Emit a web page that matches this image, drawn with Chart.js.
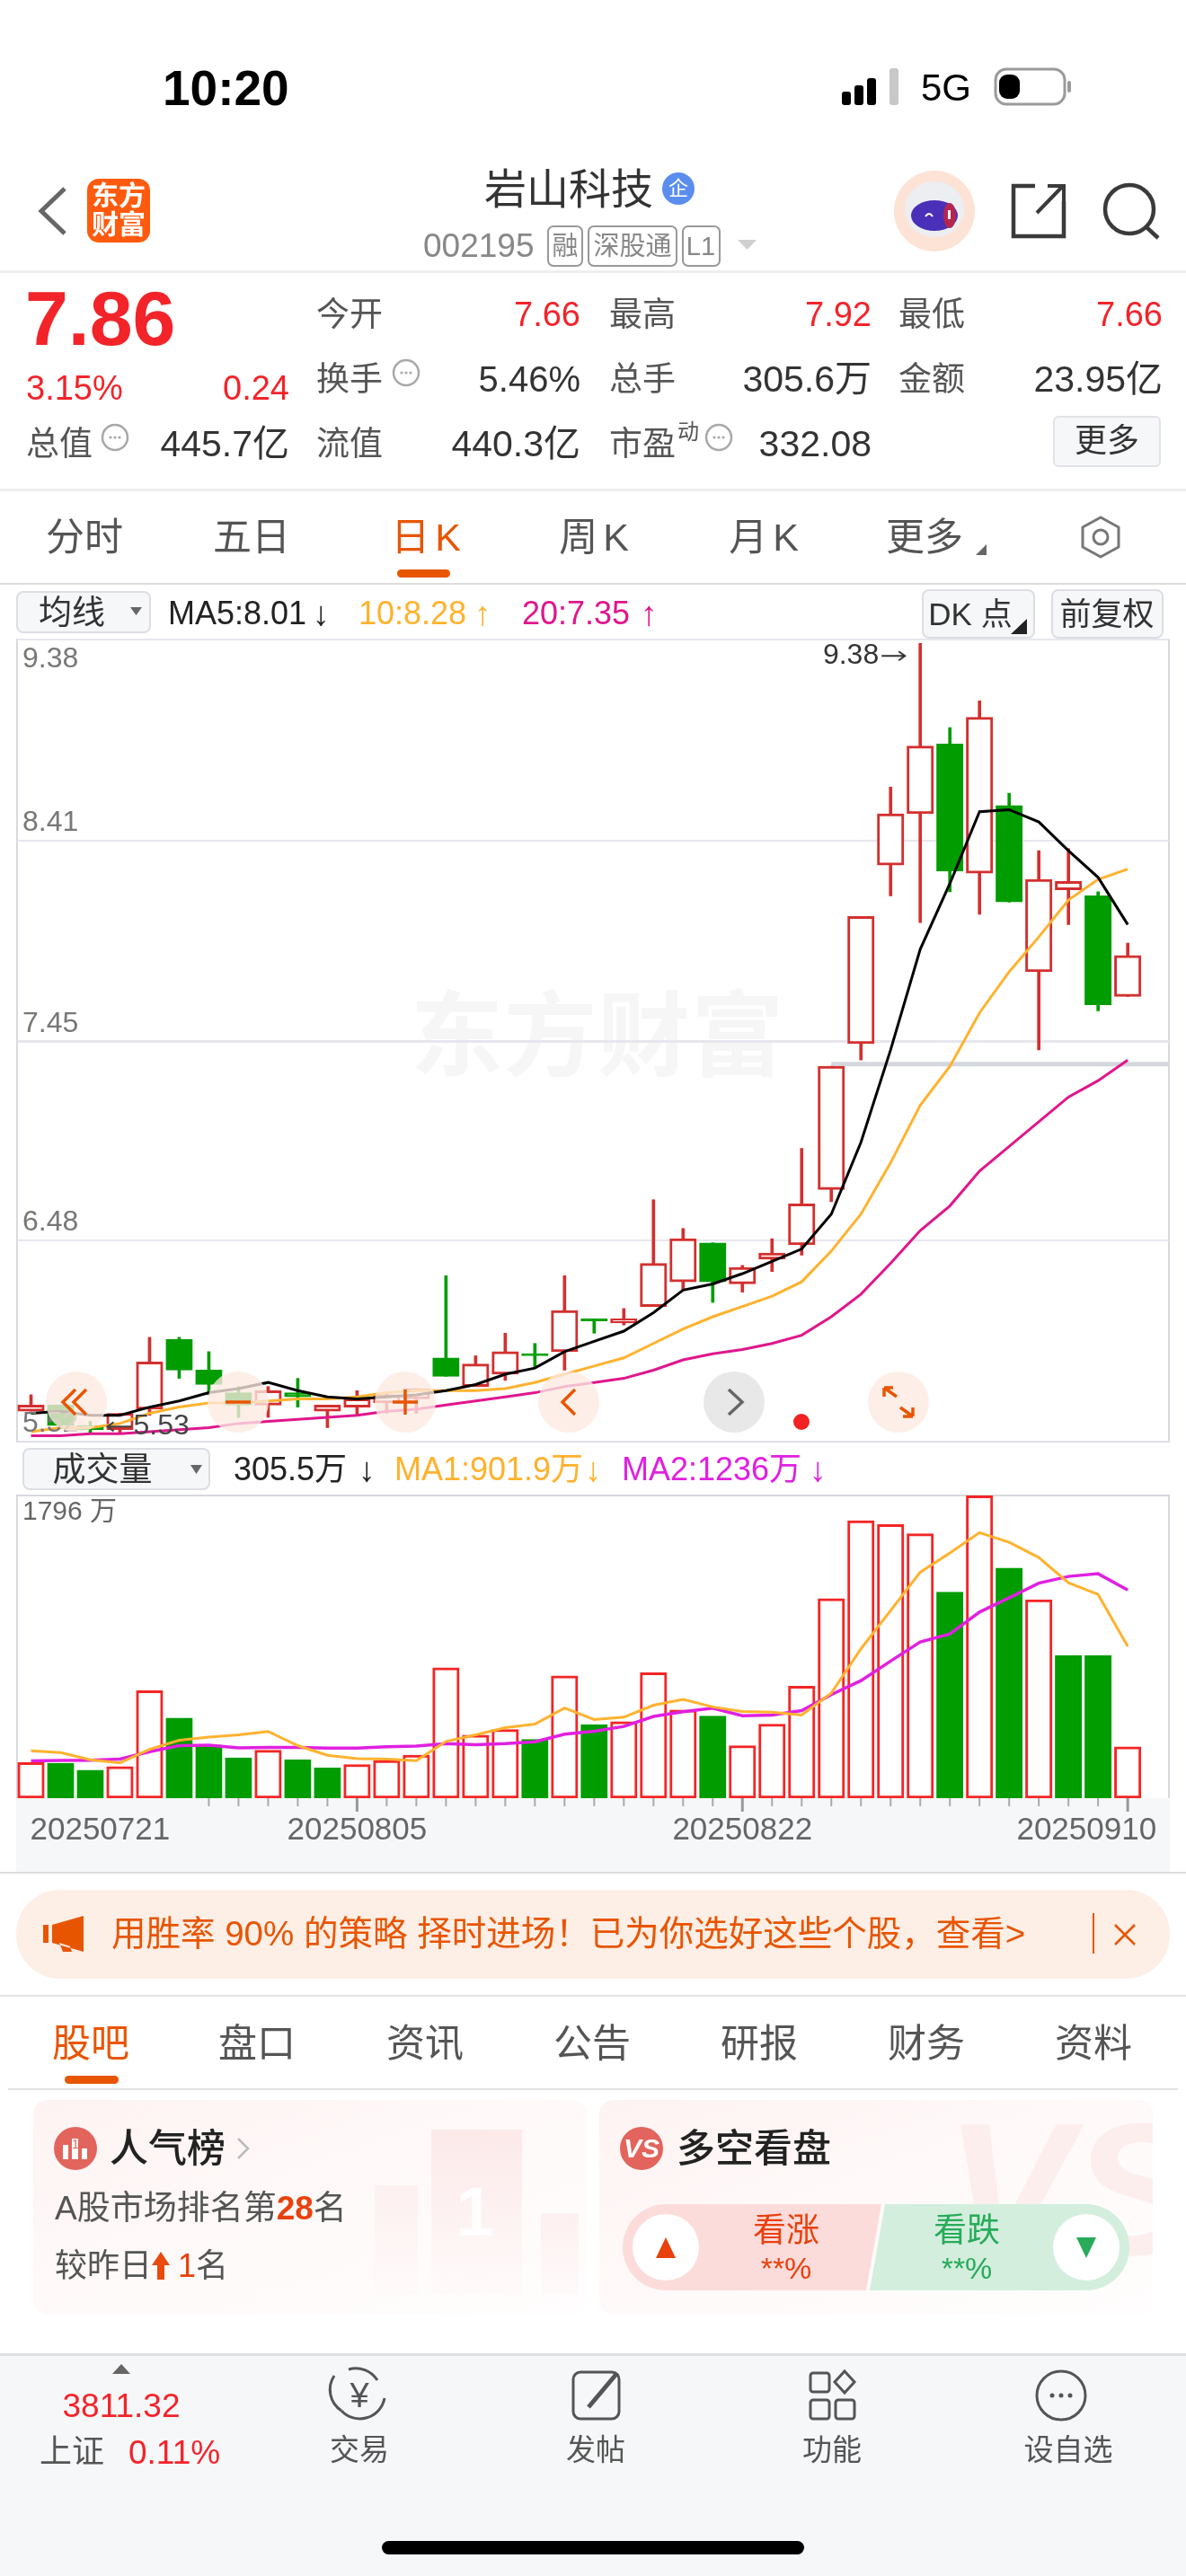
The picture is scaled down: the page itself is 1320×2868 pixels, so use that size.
<!DOCTYPE html>
<html>
<head>
<meta charset="utf-8">
<title>岩山科技</title>
<script src="https://cdn.jsdelivr.net/npm/chart.js@4/dist/chart.umd.js"></script>
<style>
  html, body { margin: 0; padding: 0; background: #fff; }
  body { width: 1320px; height: 2868px; position: relative; overflow: hidden; font-family: "Liberation Sans", "Noto Sans CJK SC", sans-serif; }
  .box { position: absolute; box-sizing: border-box; }
  .btn { position: absolute; box-sizing: border-box; background: #f6f7f9; border: 2px solid #dcdee3; border-radius: 8px; }
  .t { position: absolute; white-space: nowrap; line-height: 1; }
  canvas { position: absolute; }
  #icons { position: absolute; left: 0; top: 0; }
</style>
</head>
<body>
<div class="box" style="left:0;top:301px;width:1320px;height:3px;background:#eeeeee"></div>
<div class="box" style="left:0;top:544px;width:1320px;height:3px;background:#eeeeee"></div>
<div class="box" style="left:0;top:649px;width:1320px;height:2px;background:#dddddd"></div>

<div class="box" style="left:97px;top:199px;width:70px;height:71px;border-radius:13px;background:#ff5a0d"></div>
<div class="box" style="left:1172px;top:463px;width:120px;height:57px;background:#f6f7f9;border:2px solid #e2e3e7;border-radius:6px"></div>
<div class="box" style="left:442px;top:634px;width:59px;height:9px;border-radius:5px;background:#e85500"></div>

<div class="btn" style="left:18px;top:658px;width:150px;height:47px"></div>
<div class="btn" style="left:1026px;top:656px;width:126px;height:55px"></div>
<div class="btn" style="left:1170px;top:656px;width:125px;height:55px"></div>

<div class="box" style="left:18px;top:711px;width:1284px;height:895px;border:2px solid #d8d9de"></div>
<div class="t" style="left:457px;top:1103px;font-size:103px;font-weight:700;color:#f6f6f6;letter-spacing:1px">东方财富</div>
<canvas id="priceChart" width="1282" height="894" style="left:19px;top:711px"></canvas>

<div class="btn" style="left:25px;top:1612px;width:209px;height:47px"></div>
<div class="box" style="left:18px;top:2002px;width:1284px;height:83px;background:#f6f7f9"></div>
<div class="box" style="left:18px;top:1664px;width:1284px;height:338px;border:2px solid #d8d9de;border-bottom:none"></div>
<div class="box" style="left:0;top:2084px;width:1320px;height:2px;background:#dddddd"></div>
<canvas id="volumeChart" width="1282" height="421" style="left:19px;top:1664px"></canvas>

<div class="box" style="left:18px;top:2104px;width:1284px;height:99px;border-radius:49px;background:#fdeee6"></div>
<div class="box" style="left:1216px;top:2130px;width:2px;height:45px;background:#e85500"></div>
<div class="box" style="left:0;top:2221px;width:1320px;height:2px;background:#e2e2e2"></div>
<div class="box" style="left:72px;top:2311px;width:60px;height:9px;border-radius:5px;background:#e85500"></div>
<div class="box" style="left:9px;top:2325px;width:1302px;height:2px;background:#e2e2e2"></div>

<div class="box" style="left:37px;top:2338px;width:616px;height:239px;border-radius:16px;overflow:hidden;background:linear-gradient(160deg,#fdf3f2 0%,#fffafa 55%,#fffdfd 100%)">
  <div class="box" style="left:380px;top:95px;width:48px;height:122px;background:linear-gradient(#fdf0f0,#fffafa)"></div>
  <div class="box" style="left:443px;top:33px;width:101px;height:184px;background:linear-gradient(#fce9e9,#fffafa)"></div>
  <div class="box" style="left:565px;top:126px;width:42px;height:91px;background:linear-gradient(#fdf0f0,#fffafa)"></div>
  <div class="t" style="left:470px;top:85px;font-size:78px;font-weight:700;color:#fffdfd">1</div>
</div>
<div class="box" style="left:667px;top:2338px;width:616px;height:239px;border-radius:16px;overflow:hidden;background:linear-gradient(160deg,#fdf3f2 0%,#fffafa 55%,#fffdfd 100%)">
  <div class="t" style="left:385px;top:-5px;font-size:210px;font-weight:700;font-style:italic;color:#fdeeee">VS</div>
</div>
<div class="box" style="left:0;top:2620px;width:1320px;height:248px;background:#f6f7f9;border-top:3px solid #e0e0e0"></div>
<div class="box" style="left:425px;top:2829px;width:470px;height:15px;border-radius:8px;background:#000"></div>

<svg id="icons" width="1320" height="2868" viewBox="0 0 1320 2868">
  <defs>
    <g id="moreDots"><circle r="14" fill="none" stroke="#a8a8a8" stroke-width="2.5"/><circle cx="-5" r="1.6" fill="#a8a8a8"/><circle r="1.6" fill="#a8a8a8"/><circle cx="5" r="1.6" fill="#a8a8a8"/></g>
  </defs>
  <!-- status bar -->
  <rect x="937" y="102" width="10" height="15" rx="3" fill="#000"/>
  <rect x="951" y="95" width="10" height="22" rx="3" fill="#000"/>
  <rect x="965" y="87" width="10" height="30" rx="3" fill="#000"/>
  <rect x="990" y="76" width="10" height="41" rx="3" fill="#c8c8c8"/>
  <rect x="1108" y="77" width="77" height="39" rx="12" fill="none" stroke="#9a9a9a" stroke-width="3"/>
  <rect x="1112" y="83" width="23" height="27" rx="9" fill="#000"/>
  <rect x="1188" y="90" width="4" height="13" rx="2" fill="#9a9a9a"/>
  <!-- header -->
  <polyline points="72,210 46,235 72,260" fill="none" stroke="#666" stroke-width="5"/>
  <circle cx="755" cy="210" r="18" fill="#5b8def"/>
  <rect x="610" y="252" width="38" height="44" rx="6" fill="none" stroke="#999" stroke-width="2"/>
  <rect x="655" y="252" width="98" height="44" rx="6" fill="none" stroke="#999" stroke-width="2"/>
  <rect x="760" y="252" width="41" height="44" rx="6" fill="none" stroke="#999" stroke-width="2"/>
  <polygon points="821,267 842,267 831.5,278" fill="#cfcfcf"/>
  <circle cx="1040" cy="235" r="45" fill="#fde3d6"/>
  <ellipse cx="1040" cy="233" rx="33" ry="31" fill="#eceef2"/>
  <ellipse cx="1040" cy="240" rx="26" ry="17" fill="#4a2fb8"/>
  <ellipse cx="1057" cy="240" rx="7" ry="14" fill="#b5264f"/>
  <path d="M1030 241 q4 -6 8 0" fill="none" stroke="#fff" stroke-width="2"/>
  <rect x="1055" y="234" width="3" height="10" fill="#fff"/>
  <path d="M1152 207 H1128 V263 H1184 V224" fill="none" stroke="#3a3a3a" stroke-width="4.5"/>
  <path d="M1154 237 L1183 207 M1166 207 H1184 V225" fill="none" stroke="#3a3a3a" stroke-width="4"/>
  <circle cx="1257" cy="233" r="27" fill="none" stroke="#3a3a3a" stroke-width="4.5"/>
  <line x1="1275" y1="252" x2="1289" y2="265" stroke="#3a3a3a" stroke-width="4.5"/>
  <use href="#moreDots" x="452" y="415"/>
  <use href="#moreDots" x="128" y="487"/>
  <use href="#moreDots" x="800" y="487"/>
  <!-- tabs -->
  <polygon points="1098,606 1098,618 1086,618" fill="#666"/>
  <path d="M1225 576 L1245 587 V609 L1225 620 L1205 609 V587z" fill="none" stroke="#777" stroke-width="3" stroke-linejoin="round"/>
  <circle cx="1225" cy="598" r="8" fill="none" stroke="#777" stroke-width="3"/>
  <!-- dropdown markers -->
  <polygon points="145,676 158,676 151.5,685" fill="#666"/>
  <polygon points="1125,706 1143,706 1143,689" fill="#222"/>
  <polygon points="212,1631 225,1631 218.5,1641" fill="#666"/>
  <!-- chart overlay buttons -->
  <circle cx="85" cy="1561" r="34" fill="#fdebe1" fill-opacity=".78"/>
  <circle cx="265" cy="1561" r="34" fill="#fdebe1" fill-opacity=".78"/>
  <circle cx="451" cy="1561" r="34" fill="#fdebe1" fill-opacity=".78"/>
  <circle cx="633" cy="1561" r="34" fill="#fdebe1" fill-opacity=".78"/>
  <circle cx="817" cy="1561" r="34" fill="#e2e2e2" fill-opacity=".8"/>
  <circle cx="1000" cy="1561" r="34" fill="#fdebe1" fill-opacity=".78"/>
  <circle cx="892" cy="1583" r="9" fill="#f22222"/>
  <path d="M84 1547 L70 1561 L84 1575 M96 1547 L82 1561 L96 1575" fill="none" stroke="#e85500" stroke-width="3.5"/>
  <line x1="251" y1="1561" x2="279" y2="1561" stroke="#e85500" stroke-width="3.5"/>
  <path d="M437 1561 H465 M451 1547 V1575" fill="none" stroke="#e85500" stroke-width="3.5"/>
  <polyline points="640,1547 626,1561 640,1575" fill="none" stroke="#e85500" stroke-width="3.5"/>
  <polyline points="811,1547 826,1561 811,1575" fill="none" stroke="#666" stroke-width="3.5"/>
  <path d="M984 1545 L998 1555 M984 1545 V1555 M984 1545 H994 M1016 1577 L1002 1567 M1016 1577 V1567 M1016 1577 H1005" fill="none" stroke="#e85500" stroke-width="3.5"/>
  <!-- banner -->
  <path d="M48 2143 h6 v20 h-6z M58 2143 L93 2133 V2173 L58 2163z M66 2163 l4 10 h10 l-2 -6z" fill="#e85500"/>
  <path d="M1241 2143 L1263 2165 M1263 2143 L1241 2165" fill="none" stroke="#e85500" stroke-width="2.5"/>
  <!-- cards -->
  <circle cx="84" cy="2392" r="24" fill="#e2645c"/>
  <rect x="70" y="2388" width="6" height="16" fill="#fff"/><rect x="80" y="2381" width="7" height="23" fill="#fff"/><rect x="91" y="2392" width="6" height="12" fill="#fff"/>
  <polyline points="265,2381 276,2392 265,2403" fill="none" stroke="#bbb" stroke-width="2.5"/>
  <circle cx="714" cy="2392" r="24" fill="#e2645c"/>
  <path d="M981 2454 L964 2550 H741 A48 48 0 0 1 741 2454z" fill="#fcdcda"/>
  <path d="M985 2454 H1209 A48 48 0 0 1 1209 2550 H968z" fill="#d3eedd"/>
  <circle cx="741" cy="2502" r="37" fill="#fff"/>
  <circle cx="1209" cy="2502" r="37" fill="#fff"/>
  <polygon points="741,2491 752,2514 730,2514" fill="#e8410e"/>
  <polygon points="1198,2491 1220,2491 1209,2514" fill="#28ab5a"/>
  <path d="M169 2522 l10 -15 10 15 h-6 v16 h-8 v-16z" fill="#e84a10"/>
  <!-- bottom bar -->
  <polygon points="135,2632 145,2643 125,2643" fill="#666"/>
  <path d="M420 2650 A28 28 0 0 0 388 2638 M380 2684 A28 28 0 0 0 428 2670" fill="none" stroke="#555" stroke-width="3"/>
  <path d="M372 2645 A28 28 0 0 0 380 2684" fill="none" stroke="#555" stroke-width="3"/>
  <rect x="638" y="2641" width="51" height="52" rx="8" fill="none" stroke="#555" stroke-width="3"/>
  <path d="M655 2680 L687 2642" stroke="#555" stroke-width="5"/>
  <rect x="902" y="2642" width="21" height="21" rx="3" fill="none" stroke="#555" stroke-width="3"/>
  <rect x="902" y="2672" width="21" height="21" rx="3" fill="none" stroke="#555" stroke-width="3"/>
  <rect x="930" y="2672" width="21" height="21" rx="3" fill="none" stroke="#555" stroke-width="3"/>
  <path d="M940 2640 L951 2652 L940 2664 L929 2652z" fill="none" stroke="#555" stroke-width="3"/>
  <circle cx="1181" cy="2667" r="27" fill="none" stroke="#555" stroke-width="3"/>
  <circle cx="1171" cy="2667" r="2.5" fill="#555"/><circle cx="1181" cy="2667" r="2.5" fill="#555"/><circle cx="1191" cy="2667" r="2.5" fill="#555"/>
</svg>
<div id="texts"></div>

<script>
// daily k-line
const dates = ['20250721','20250722','20250723','20250724','20250725','20250728','20250729','20250730','20250731','20250801','20250804','20250805','20250806','20250807','20250808','20250811','20250812','20250813','20250814','20250815','20250818','20250819','20250820','20250821','20250822','20250825','20250826','20250827','20250828','20250829','20250901','20250902','20250903','20250904','20250905','20250908','20250909','20250910'];
const openPrices = [5.64,5.67,5.57,5.55,5.65,5.99,5.84,5.73,5.67,5.73,5.64,5.66,5.68,5.70,5.90,5.76,5.82,5.92,5.93,6.09,6.07,6.15,6.27,6.46,6.26,6.38,6.45,6.72,7.43,8.30,8.55,8.89,8.26,8.59,7.78,8.18,8.15,7.66];
const closePrices = [5.67,5.57,5.55,5.63,5.88,5.84,5.77,5.67,5.74,5.71,5.67,5.70,5.72,5.75,5.81,5.87,5.93,5.91,6.13,6.08,6.09,6.36,6.48,6.27,6.34,6.41,6.65,7.32,8.05,8.55,8.88,8.27,9.02,8.12,8.23,8.22,7.62,7.86];
const highPrices = [5.72,5.67,5.59,5.63,6.00,6.00,5.93,5.76,5.76,5.80,5.67,5.74,5.73,5.75,6.30,5.91,6.02,5.97,6.30,6.09,6.14,6.67,6.53,6.46,6.35,6.48,6.92,7.32,8.05,8.68,9.38,8.97,9.10,8.65,8.37,8.38,8.17,7.92];
const lowPrices = [5.64,5.57,5.53,5.53,5.62,5.80,5.72,5.61,5.61,5.66,5.56,5.62,5.63,5.63,5.81,5.76,5.79,5.85,5.84,6.02,6.06,6.15,6.23,6.17,6.22,6.32,6.40,6.66,7.35,8.15,8.02,8.17,8.06,8.12,7.40,8.01,7.59,7.66];
const ma5 = [5.63,5.64,5.62,5.62,5.66,5.69,5.73,5.75,5.78,5.74,5.71,5.70,5.71,5.72,5.74,5.77,5.82,5.85,5.93,5.98,6.03,6.12,6.23,6.26,6.31,6.37,6.43,6.60,6.95,7.40,7.89,8.21,8.56,8.57,8.51,8.37,8.24,8.01];
const ma10 = [5.54,5.56,5.56,5.58,5.63,5.66,5.68,5.68,5.69,5.70,5.70,5.71,5.73,5.74,5.74,5.74,5.75,5.78,5.82,5.86,5.90,5.97,6.04,6.10,6.15,6.20,6.27,6.42,6.60,6.85,7.13,7.32,7.58,7.78,7.95,8.13,8.23,8.28];
const ma20 = [5.52,5.52,5.53,5.53,5.54,5.55,5.56,5.58,5.59,5.60,5.61,5.62,5.64,5.65,5.67,5.69,5.71,5.73,5.76,5.78,5.80,5.84,5.89,5.92,5.94,5.97,6.01,6.10,6.21,6.36,6.52,6.64,6.81,6.93,7.05,7.17,7.25,7.35];
// 万手
const volumes = [212,208,166,187,638,476,315,239,285,228,180,200,223,255,775,374,408,349,727,437,454,745,524,488,312,440,665,1185,1648,1625,1570,1224,1796,1367,1178,846,846,305.5];
// bars drawn green in the volume panel
const volumeDownDays = [1,2,5,6,7,9,10,17,19,23,31,33,35,36];
const volMa1 = [282,271,228,210,290,344,363,376,396,312,255,235,232,223,337,376,419,440,535,467,481,552,586,542,515,511,494,624,887,1114,1342,1456,1577,1520,1429,1279,1210,901.9];
const volMa2 = [221,224,226,232,276,312,315,299,301,301,298,298,305,310,324,317,324,335,380,397,426,485,513,535,490,494,520,615,698,814,928,975,1105,1190,1277,1317,1333,1236];
const priceGridValues = [9.40,8.42,7.44,6.47,5.49];
const priceTickLabels = ['9.38','8.41','7.45','6.48','5.52'];
const supportLevel = 7.33;
const supportStart = 27;
const volumeTopLabel = '1796 万';
const dateTickStart = 6;
const dateLabelIndex = [0,11,24,37];

const RED_K = '#d2302f', RED_V = '#f42525', GREEN = '#009c00';
const BASE_FONT = '"Liberation Sans", "Noto Sans CJK SC", sans-serif';
const X_MIN = -0.47, X_MAX = 38.39;

Chart.defaults.font.family = BASE_FONT;
Chart.defaults.animation = false;

function isUp(i) { return closePrices[i] >= openPrices[i]; }
function points(arr) { return arr.map((y, i) => ({ x: i, y: y })); }
function lineSet(arr, color, width) {
    return { type: 'line', data: points(arr), borderColor: color, borderWidth: width, pointRadius: 0, tension: 0, order: 0 };
}
function xScale() {
    return { type: 'linear', display: false, offset: false, min: X_MIN, max: X_MAX };
}

// tick labels of the price axis plus the high / low marks
const priceLabels = {
    id: 'priceLabels',
    afterDraw(chart) {
        const c = chart.ctx, y = chart.scales.y, x = chart.scales.x;
        c.save();
        c.font = '32px ' + BASE_FONT;
        c.fillStyle = '#777';
        c.textAlign = 'left';
        c.textBaseline = 'middle';
        priceTickLabels.forEach((txt, i) => {
            const py = y.getPixelForValue(priceGridValues[i]);
            c.fillText(txt, 6, i === 0 ? py + 22 : py - 20);
        });
        const hi = highPrices.indexOf(Math.max(...highPrices));
        const lo = lowPrices.indexOf(Math.min(...lowPrices));
        const hiX = x.getPixelForValue(hi), hiY = y.getPixelForValue(highPrices[hi]) + 14;
        c.fillStyle = '#333';
        c.textAlign = 'right';
        c.fillText(highPrices[hi].toFixed(2), hiX - 46, hiY);
        c.strokeStyle = '#333';
        c.lineWidth = 2;
        c.beginPath();
        c.moveTo(hiX - 43, hiY); c.lineTo(hiX - 17, hiY);
        c.moveTo(hiX - 24, hiY - 5); c.lineTo(hiX - 17, hiY); c.lineTo(hiX - 24, hiY + 5);
        c.stroke();
        const loX = x.getPixelForValue(3), loY = y.getPixelForValue(lowPrices[lo]) - 8;
        c.fillStyle = '#444';
        c.textAlign = 'left';
        c.fillText(lowPrices[lo].toFixed(2), loX + 15, loY);
        c.strokeStyle = '#444';
        c.beginPath();
        c.moveTo(loX - 14, loY); c.lineTo(loX + 13, loY);
        c.moveTo(loX - 7, loY - 5); c.lineTo(loX - 14, loY); c.lineTo(loX - 7, loY + 5);
        c.stroke();
        c.restore();
    }
};

new Chart(document.getElementById('priceChart').getContext('2d'), {
    type: 'bar',
    data: {
        datasets: [
            lineSet(ma5, '#000000', 3),
            lineSet(ma10, '#ffb22e', 3),
            lineSet(ma20, '#e0168c', 3),
            {
                type: 'line',
                data: [{ x: supportStart, y: supportLevel }, { x: X_MAX, y: supportLevel }],
                borderColor: '#d5d7de', borderWidth: 5, pointRadius: 0, order: 3
            },
            {
                data: dates.map((d, i) => ({ x: i, y: [openPrices[i], closePrices[i]] })),
                backgroundColor: dates.map((d, i) => isUp(i) ? '#ffffff' : GREEN),
                borderColor: dates.map((d, i) => isUp(i) ? RED_K : GREEN),
                borderWidth: 3, borderSkipped: false, barThickness: 29.5, grouped: false, order: 1
            },
            {
                data: dates.map((d, i) => ({ x: i, y: [lowPrices[i], highPrices[i]] })),
                backgroundColor: dates.map((d, i) => isUp(i) ? RED_K : GREEN),
                barThickness: 3, grouped: false, order: 2
            }
        ]
    },
    options: {
        responsive: false,
        layout: { padding: 0 },
        plugins: { legend: { display: false }, tooltip: { enabled: false } },
        scales: {
            x: xScale(),
            y: {
                min: 5.492, max: 9.403,
                border: { display: false },
                afterFit(s) { s.width = 0; },
                afterBuildTicks(s) { s.ticks = priceGridValues.map(v => ({ value: v })); },
                ticks: { display: false },
                grid: {
                    drawTicks: false,
                    color: '#e6e7ee',
                    lineWidth: ctx => ctx.index === 2 ? 3 : 2
                }
            }
        }
    },
    plugins: [priceLabels]
});

// date axis under the volume bars
const dateAxis = {
    id: 'dateAxis',
    afterDraw(chart) {
        const c = chart.ctx, x = chart.scales.x, base = chart.chartArea.bottom;
        c.save();
        dates.forEach((d, i) => {
            if (i < dateTickStart) return;
            const major = dateLabelIndex.includes(i);
            c.fillStyle = major ? '#999' : '#aaa';
            const w = major ? 3 : 2;
            c.fillRect(x.getPixelForValue(i) - w / 2, base, w, major ? 15 : 9);
        });
        c.font = '35px ' + BASE_FONT;
        c.fillStyle = '#666';
        c.textBaseline = 'middle';
        dateLabelIndex.forEach((idx, n) => {
            const px = x.getPixelForValue(idx);
            if (n === 0) { c.textAlign = 'left'; c.fillText(dates[idx], px - 1, base + 36); }
            else if (n === dateLabelIndex.length - 1) { c.textAlign = 'right'; c.fillText(dates[idx], px + 32, base + 36); }
            else { c.textAlign = 'center'; c.fillText(dates[idx], px, base + 36); }
        });
        c.font = '30px ' + BASE_FONT;
        c.textAlign = 'left';
        c.fillText(volumeTopLabel, 6, chart.chartArea.top + 20);
        c.restore();
    }
};

new Chart(document.getElementById('volumeChart').getContext('2d'), {
    type: 'bar',
    data: {
        datasets: [
            lineSet(volMa1, '#ffb22e', 3),
            lineSet(volMa2, '#e020e0', 3.5),
            {
                data: points(volumes),
                backgroundColor: dates.map((d, i) => volumeDownDays.includes(i) ? GREEN : '#ffffff'),
                borderColor: dates.map((d, i) => volumeDownDays.includes(i) ? GREEN : RED_V),
                borderWidth: 3, borderSkipped: false, barThickness: 29.5, grouped: false, order: 1
            }
        ]
    },
    options: {
        responsive: false,
        layout: { padding: { bottom: 83 } },
        plugins: { legend: { display: false }, tooltip: { enabled: false } },
        scales: {
            x: xScale(),
            y: { display: false, min: 0, max: 1803 }
        }
    },
    plugins: [dateAxis]
});

// page text around the charts
const texts = document.getElementById('texts');
function label(txt, x, cy, size, color, align, extra) {
    const el = document.createElement('div');
    el.className = 't';
    el.textContent = txt;
    const shift = align === 'c' ? '-50%' : align === 'r' ? '-100%' : '0';
    el.style.cssText = `left:${x}px;top:${cy}px;font-size:${size}px;color:${color};transform:translate(${shift},-50%);${extra || ''}`;
    texts.appendChild(el);
    return el;
}
const GREY = '#555', DARK = '#333', RED = '#f2242a', ORANGE = '#e85500';

label('10:20', 181, 98, 55, '#000', 'l', 'font-weight:700');
label('5G', 1025, 98, 42, '#000', 'l');
label('东方', 132, 218, 30, '#fff', 'c', 'font-weight:700');
label('财富', 132, 250, 30, '#fff', 'c', 'font-weight:700');
label('岩山科技', 539, 210, 47, DARK, 'l');
label('企', 755, 210, 22, '#fff', 'c');
label('002195', 471, 273, 37, '#888', 'l');
label('融', 629, 274, 29, '#888', 'c');
label('深股通', 704, 274, 29, '#888', 'c');
label('L1', 780, 274, 29, '#888', 'c');

label('7.86', 28, 354, 86, RED, 'l', 'font-weight:700');
label('3.15%', 29, 432, 38, RED, 'l');
label('0.24', 322, 432, 38, RED, 'r');
const rowY = [350, 422, 494];
label('今开', 352, rowY[0], 37, GREY, 'l');
label('7.66', 646, rowY[0], 38, RED, 'r');
label('最高', 678, rowY[0], 37, GREY, 'l');
label('7.92', 970, rowY[0], 38, RED, 'r');
label('最低', 1000, rowY[0], 37, GREY, 'l');
label('7.66', 1294, rowY[0], 38, RED, 'r');
label('换手', 352, rowY[1], 37, GREY, 'l');
label('5.46%', 646, rowY[1], 40, DARK, 'r');
label('总手', 678, rowY[1], 37, GREY, 'l');
label('305.6万', 970, rowY[1], 41, DARK, 'r');
label('金额', 1000, rowY[1], 37, GREY, 'l');
label('23.95亿', 1294, rowY[1], 41, DARK, 'r');
label('总值', 29, rowY[2], 37, GREY, 'l');
label('445.7亿', 322, rowY[2], 41, DARK, 'r');
label('流值', 352, rowY[2], 37, GREY, 'l');
label('440.3亿', 646, rowY[2], 41, DARK, 'r');
label('市盈', 678, rowY[2], 37, GREY, 'l');
label('动', 766, 481, 24, GREY, 'c');
label('332.08', 970, rowY[2], 41, DARK, 'r');
label('更多', 1232, 491, 36, DARK, 'c');

label('分时', 94, 598, 43, GREY, 'c');
label('五日', 280, 598, 43, GREY, 'c');
label('日 K', 474, 598, 43, ORANGE, 'c', 'word-spacing:-6px');
label('周 K', 661, 598, 43, GREY, 'c', 'word-spacing:-6px');
label('月 K', 850, 598, 43, GREY, 'c', 'word-spacing:-6px');
label('更多', 1029, 598, 43, GREY, 'c');

label('均线', 80, 682, 37, DARK, 'c');
label('MA5:8.01', 187, 683, 36, '#222', 'l');
label('↓', 357, 683, 38, '#222', 'c');
label('10:8.28', 399, 683, 36, '#ffb22e', 'l');
label('↑', 537, 683, 38, '#ffb22e', 'c');
label('20:7.35', 581, 683, 36, '#e0168c', 'l');
label('↑', 722, 683, 38, '#e0168c', 'c');
label('DK 点', 1080, 683, 35, DARK, 'c');
label('前复权', 1232, 683, 35, DARK, 'c');

label('成交量', 114, 1636, 37, DARK, 'c');
label('305.5万', 260, 1636, 36, '#222', 'l');
label('↓', 408, 1636, 38, '#222', 'c');
label('MA1:901.9万', 439, 1636, 36, '#ffb22e', 'l');
label('↓', 660, 1636, 38, '#ffb22e', 'c');
label('MA2:1236万', 692, 1636, 36, '#e020e0', 'l');
label('↓', 910, 1636, 38, '#e020e0', 'c');

label('用胜率 90% 的策略 择时进场！已为你选好这些个股，查看>', 124, 2153, 38.5, ORANGE, 'l');
const tabNames = ['股吧', '盘口', '资讯', '公告', '研报', '财务', '资料'];
const tabX = [101, 286, 473, 659, 845, 1031, 1217];
tabNames.forEach((n, i) => label(n, tabX[i], 2275, 43, i === 0 ? ORANGE : GREY, 'c'));

label('人气榜', 122, 2392, 43, '#222', 'l', 'font-weight:500');
label('多空看盘', 753, 2392, 43, '#222', 'l', 'font-weight:500');
label('1', 84, 2387, 14, '#e2645c', 'c');
label('VS', 714, 2392, 30, '#fff', 'c', 'font-weight:700;font-style:italic');
const rank = label('A股市场排名第', 61, 2458, 37, GREY, 'l');
rank.innerHTML = 'A股市场排名第<b style="color:#e8410e">28</b>名';
label('较昨日', 61, 2523, 36, GREY, 'l');
label('1名', 198, 2523, 36, GREY, 'l').innerHTML = '<span style="color:#e8410e">1</span>名';
label('看涨', 875, 2483, 37, '#e8410e', 'c');
label('**%', 875, 2525, 34, '#e8410e', 'c');
label('看跌', 1076, 2483, 37, '#28ab5a', 'c');
label('**%', 1076, 2525, 34, '#28ab5a', 'c');

label('3811.32', 135, 2678, 37, RED, 'c');
label('上证', 44, 2730, 36, GREY, 'l');
label('0.11%', 143, 2730, 37, RED, 'l');
label('¥', 400, 2667, 38, '#555', 'c');
label('交易', 400, 2727, 33, GREY, 'c');
label('发帖', 663, 2727, 33, GREY, 'c');
label('功能', 926, 2727, 33, GREY, 'c');
label('设自选', 1189, 2727, 33, GREY, 'c');
</script>
</body>
</html>
